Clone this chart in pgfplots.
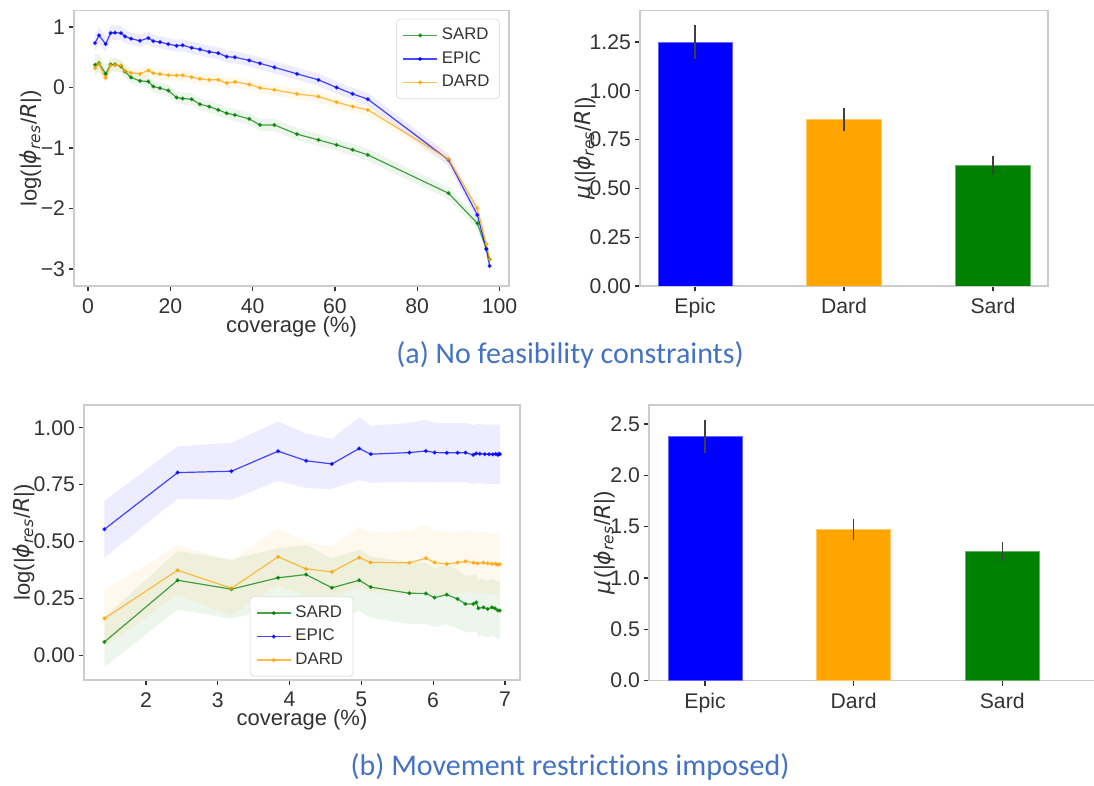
\documentclass[border=0pt]{standalone}
\usepackage{fontspec}
\setmainfont{Liberation Sans}
\newfontfamily\dvs{DejaVu Sans}
\newfontfamily\carlito[Ligatures=NoCommon]{Carlito}
\usepackage{pgfplots}
\pgfplotsset{compat=1.18}
\usepackage{pgfplotstable}
\usepgfplotslibrary{fillbetween}

\definecolor{mgreen}{HTML}{008000}
\definecolor{mblue}{HTML}{0000FF}
\definecolor{morange}{HTML}{FFA500}
\definecolor{capblue}{HTML}{4472C4}
\definecolor{spine}{HTML}{CCCCCC}
\definecolor{txt}{HTML}{333333}

\newcommand{\ylab}{log(|{\dvs\itshape ϕ}\textsubscript{\dvs\itshape res}/{\dvs\itshape R}|)}
\newcommand{\mulab}{{\dvs\itshape μ}\kern1pt(|{\dvs\itshape ϕ}\textsubscript{\dvs\itshape res}/{\dvs\itshape R}|)}

% ---------- (a) line data: x  y  e ----------
\pgfplotstableread{
x y e
1.70 0.735 0.14
2.67 0.862 0.14
4.29 0.718 0.13
5.51 0.900 0.13
6.56 0.906 0.12
8.02 0.900 0.12
8.99 0.845 0.11
10.45 0.807 0.10
12.63 0.773 0.10
14.66 0.818 0.10
15.87 0.768 0.10
17.49 0.751 0.10
19.52 0.718 0.10
21.54 0.690 0.10
23.00 0.700 0.10
25.18 0.656 0.10
27.20 0.630 0.10
29.47 0.590 0.10
31.66 0.568 0.10
33.70 0.510 0.10
35.70 0.500 0.10
39.20 0.448 0.10
41.80 0.398 0.10
45.30 0.333 0.10
50.80 0.226 0.10
56.00 0.127 0.10
60.40 0.000 0.10
64.30 -0.105 0.10
68.00 -0.193 0.10
87.60 -1.196 0.10
94.60 -2.105 0.10
96.80 -2.670 0.10
97.60 -2.950 0.10
}\epicA
\pgfplotstableread{
x y e
1.70 0.320 0.12
2.67 0.387 0.12
4.29 0.160 0.11
5.51 0.365 0.11
6.56 0.370 0.10
8.02 0.365 0.10
8.99 0.276 0.09
10.45 0.243 0.09
12.63 0.227 0.09
14.66 0.282 0.09
15.87 0.238 0.09
17.49 0.221 0.09
19.52 0.204 0.09
21.54 0.199 0.09
23.00 0.204 0.09
25.18 0.171 0.09
27.20 0.144 0.09
29.47 0.127 0.09
31.66 0.127 0.09
33.70 0.072 0.09
35.70 0.094 0.09
39.20 0.050 0.09
41.80 -0.006 0.09
45.30 -0.039 0.09
50.80 -0.105 0.09
56.00 -0.149 0.09
60.40 -0.242 0.09
64.30 -0.314 0.09
68.00 -0.369 0.09
87.60 -1.184 0.09
94.60 -1.994 0.09
96.80 -2.590 0.09
97.60 -2.840 0.09
}\dardA
\pgfplotstableread{
x y e
1.70 0.376 0.17
2.67 0.403 0.15
4.29 0.227 0.13
5.51 0.381 0.12
6.56 0.381 0.11
8.02 0.348 0.10
8.99 0.265 0.10
10.45 0.166 0.10
12.63 0.110 0.10
14.66 0.099 0.10
15.87 0.017 0.10
17.49 -0.011 0.10
19.52 -0.050 0.10
21.54 -0.166 0.10
23.00 -0.182 0.10
25.18 -0.193 0.10
27.20 -0.276 0.10
29.47 -0.315 0.10
31.66 -0.370 0.10
33.70 -0.425 0.10
35.70 -0.453 0.10
39.20 -0.519 0.10
41.80 -0.619 0.10
45.30 -0.619 0.10
50.80 -0.771 0.10
56.00 -0.865 0.10
60.40 -0.948 0.10
64.30 -1.030 0.10
68.00 -1.113 0.10
87.60 -1.747 0.10
94.60 -2.243 0.10
96.80 -2.670 0.10
97.60 -2.840 0.10
}\sardA

% ---------- (b) line data ----------
\pgfplotstableread{
x y e
1.42 0.554 0.125
2.44 0.803 0.115
3.19 0.809 0.125
3.84 0.897 0.130
4.23 0.855 0.120
4.59 0.841 0.110
4.97 0.909 0.138
5.13 0.884 0.125
5.67 0.891 0.130
5.90 0.898 0.138
6.02 0.891 0.130
6.19 0.890 0.130
6.34 0.890 0.130
6.45 0.891 0.130
6.56 0.881 0.130
6.60 0.887 0.130
6.65 0.886 0.130
6.72 0.884 0.130
6.78 0.884 0.130
6.83 0.883 0.130
6.87 0.885 0.130
6.90 0.881 0.130
6.92 0.886 0.130
6.93 0.884 0.130
}\epicB
\pgfplotstableread{
x y e
1.42 0.162 0.125
2.44 0.374 0.110
3.19 0.295 0.120
3.84 0.433 0.125
4.23 0.380 0.120
4.59 0.367 0.110
4.97 0.430 0.135
5.13 0.408 0.130
5.67 0.407 0.140
5.90 0.427 0.145
6.02 0.408 0.140
6.19 0.401 0.140
6.34 0.408 0.135
6.45 0.413 0.135
6.56 0.407 0.135
6.62 0.404 0.135
6.70 0.407 0.135
6.76 0.404 0.135
6.82 0.402 0.135
6.87 0.403 0.135
6.90 0.398 0.135
6.93 0.401 0.135
}\dardB
\pgfplotstableread{
x y e
1.42 0.059 0.110
2.44 0.330 0.128
3.19 0.291 0.130
3.84 0.341 0.130
4.23 0.355 0.130
4.59 0.297 0.130
4.97 0.330 0.135
5.13 0.300 0.135
5.67 0.273 0.135
5.90 0.272 0.135
6.02 0.254 0.130
6.19 0.267 0.130
6.34 0.248 0.130
6.45 0.226 0.125
6.56 0.226 0.125
6.60 0.233 0.125
6.63 0.207 0.125
6.70 0.211 0.125
6.76 0.204 0.125
6.82 0.211 0.125
6.86 0.207 0.125
6.90 0.198 0.125
6.93 0.197 0.125
}\sardB

\pgfplotsset{
  base/.style={
    scale only axis, anchor=north west,
    axis line style={spine, line width=0.6pt},
    tick style={txt, line width=0.6pt},
    major tick length=2.5pt, tick align=outside,
    xtick pos=left, ytick pos=left,
    ticklabel style={font=\fontsize{10.6}{12}\selectfont, text=txt},
    yticklabel style={xshift=1.5pt},
    xticklabel style={inner ysep=0.5pt, yshift=-3pt},
    label style={font=\fontsize{11}{13}\selectfont, text=txt, inner sep=0.5pt},
    /pgf/number format/assume math mode=true,
  },
  ser/.style={color=#1, line width=0.6pt, draw opacity=0.72, fill opacity=0.72,
    mark=*, mark size=0.7pt, mark options={solid}},
  bandpath/.style={draw=none, forget plot, mark=none},
  band/.style={fill=#1, fill opacity=0.07, draw=none, forget plot},
  leg/.style={legend style={draw=black!12, rounded corners=2pt, fill=white,
    font=\fontsize{8.4}{10}\selectfont, text=txt, cells={anchor=west},
    row sep=0.4pt, inner xsep=3pt, inner ysep=2.5pt}},
  mybar/.style={ybar, bar width=0.5, bar shift=0pt, fill=#1, draw=#1!60!white, line width=0.3pt,
    error bars/.cd, y dir=both, y explicit,
    error bar style={black!75, line width=0.7pt}, error mark=none},
}

\begin{document}
\begin{tikzpicture}

% ===== (a) left =====
\begin{axis}[base, leg, at={(37pt,387.65pt)}, width=217.5pt, height=137.65pt,
  xmin=-3.4, xmax=102.3, ymin=-3.28, ymax=1.27,
  xtick={0,20,...,100}, ytick={-3,-2,-1,0,1}, yticklabels={−3,−2,−1,0,1},
  xlabel={coverage (\%)}, ylabel={\ylab},
  xlabel style={at={(axis description cs:0.5,-0.148)}, anchor=center},
  ylabel style={at={(axis description cs:-0.0995,0.5)}, anchor=center},
  legend style={at={(0.979,0.971)}, anchor=north east}]
\addplot[bandpath, name path=au] table[x=x, y expr=\thisrow{y}+\thisrow{e}] {\sardA};
\addplot[bandpath, name path=al] table[x=x, y expr=\thisrow{y}-\thisrow{e}] {\sardA};
\addplot[band=mgreen] fill between[of=au and al];
\addplot[bandpath, name path=bu] table[x=x, y expr=\thisrow{y}+\thisrow{e}] {\epicA};
\addplot[bandpath, name path=bl] table[x=x, y expr=\thisrow{y}-\thisrow{e}] {\epicA};
\addplot[band=mblue] fill between[of=bu and bl];
\addplot[bandpath, name path=cu] table[x=x, y expr=\thisrow{y}+\thisrow{e}] {\dardA};
\addplot[bandpath, name path=cl] table[x=x, y expr=\thisrow{y}-\thisrow{e}] {\dardA};
\addplot[band=morange] fill between[of=cu and cl];
\addplot[ser=mgreen] table[x=x, y=y] {\sardA};
\addlegendentry{SARD}
\addplot[ser=mblue] table[x=x, y=y] {\epicA};
\addlegendentry{EPIC}
\addplot[ser=morange] table[x=x, y=y] {\dardA};
\addlegendentry{DARD}
\end{axis}

% ===== (a) right =====
\begin{axis}[base, at={(320pt,387.65pt)}, width=204pt, height=137.65pt,
  xmin=-0.37, xmax=2.37, ymin=0, ymax=1.41,
  xtick={0,1,2}, xticklabels={Epic,Dard,Sard},
  ytick={0,0.25,0.5,0.75,1,1.25},
  yticklabel style={/pgf/number format/.cd, fixed, fixed zerofill, precision=2},
  ylabel={\mulab},
  ylabel style={at={(axis description cs:-0.135,0.5)}, anchor=center}]
\addplot[mybar=mblue] coordinates {(0,1.25) +- (0,0.085)};
\addplot[mybar=morange] coordinates {(1,0.852) +- (0,0.060)};
\addplot[mybar=mgreen] coordinates {(2,0.620) +- (0,0.045)};
\end{axis}

% ===== (b) left =====
\begin{axis}[base, leg, at={(42pt,190.5pt)}, width=218pt, height=137.5pt,
  xmin=1.136, xmax=7.21, ymin=-0.108, ymax=1.10,
  xtick={2,3,4,5,6,7}, ytick={0,0.25,0.5,0.75,1},
  yticklabel style={/pgf/number format/.cd, fixed, fixed zerofill, precision=2},
  xlabel={coverage (\%)}, ylabel={\ylab},
  xlabel style={at={(axis description cs:0.5,-0.146)}, anchor=center},
  ylabel style={at={(axis description cs:-0.138,0.5)}, anchor=center},
  legend style={at={(0.499,0.012)}, anchor=south}]
\addplot[bandpath, name path=du] table[x=x, y expr=\thisrow{y}+\thisrow{e}] {\sardB};
\addplot[bandpath, name path=dl] table[x=x, y expr=\thisrow{y}-\thisrow{e}] {\sardB};
\addplot[band=mgreen] fill between[of=du and dl];
\addplot[bandpath, name path=eu] table[x=x, y expr=\thisrow{y}+\thisrow{e}] {\epicB};
\addplot[bandpath, name path=el] table[x=x, y expr=\thisrow{y}-\thisrow{e}] {\epicB};
\addplot[band=mblue] fill between[of=eu and el];
\addplot[bandpath, name path=fu] table[x=x, y expr=\thisrow{y}+\thisrow{e}] {\dardB};
\addplot[bandpath, name path=fl] table[x=x, y expr=\thisrow{y}-\thisrow{e}] {\dardB};
\addplot[band=morange] fill between[of=fu and fl];
\addplot[ser=mgreen] table[x=x, y=y] {\sardB};
\addlegendentry{SARD}
\addplot[ser=mblue] table[x=x, y=y] {\epicB};
\addlegendentry{EPIC}
\addplot[ser=morange] table[x=x, y=y] {\dardB};
\addlegendentry{DARD}
\end{axis}

% ===== (b) right =====
\begin{axis}[base, at={(324.5pt,190.5pt)}, width=223.5pt, height=137.85pt,
  xmin=-0.377, xmax=2.631, ymin=0, ymax=2.685,
  xtick={0,1,2}, xticklabels={Epic,Dard,Sard},
  ytick={0,0.5,1,1.5,2,2.5},
  yticklabel style={/pgf/number format/.cd, fixed, fixed zerofill, precision=1},
  ylabel={\mulab},
  ylabel style={at={(axis description cs:-0.1007,0.5)}, anchor=center}]
\addplot[mybar=mblue] coordinates {(0,2.376) +- (0,0.160)};
\addplot[mybar=morange] coordinates {(1,1.474) +- (0,0.105)};
\addplot[mybar=mgreen] coordinates {(2,1.256) +- (0,0.090)};
\end{axis}

\node[font=\carlito\fontsize{15}{18}\selectfont, text=capblue] at (285pt,215.5pt) {(a) No feasibility constraints)};
\node[font=\carlito\fontsize{15}{18}\selectfont, text=capblue] at (285pt,9.5pt) {(b) Movement restrictions imposed)};

\pgfresetboundingbox
\path[use as bounding box] (0,0) rectangle (547pt,393pt);
\end{tikzpicture}
\end{document}
